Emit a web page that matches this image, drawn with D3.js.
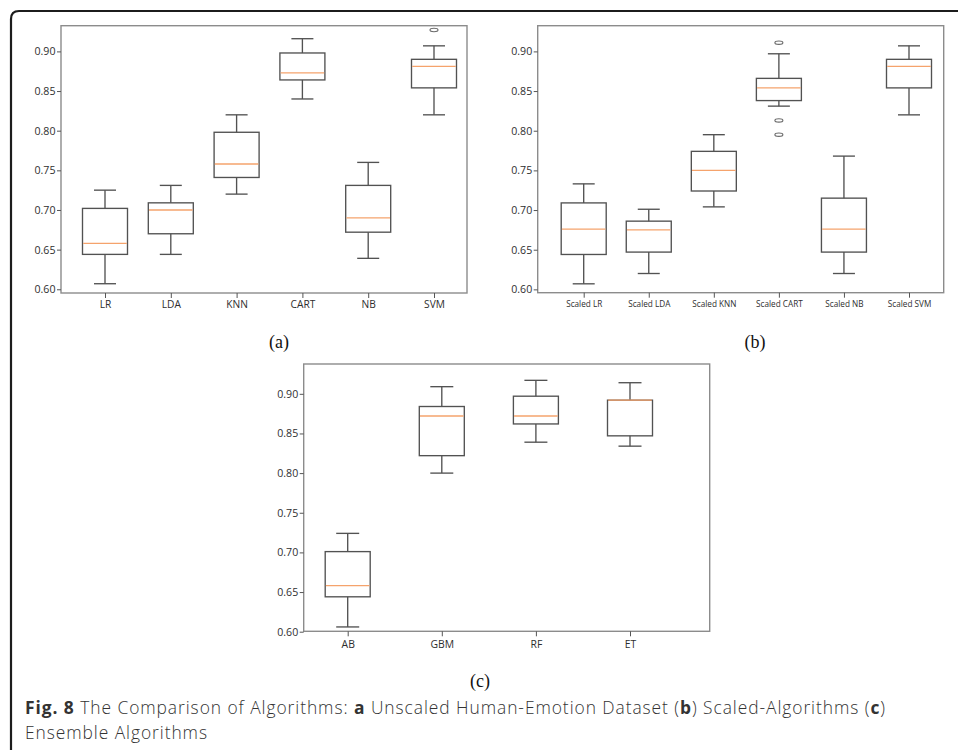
<!DOCTYPE html>
<html><head><meta charset="utf-8">
<script src="https://cdn.jsdelivr.net/npm/d3@7"></script>
<style>
html,body{margin:0;padding:0;background:#fff;}
svg{display:block;}
</style></head>
<body>
<svg id="chart" width="958" height="750"></svg>
<script>
// ---------------- DATA ----------------
const yTicks = [0.60, 0.65, 0.70, 0.75, 0.80, 0.85, 0.90];

const catsA = ["LR", "LDA", "KNN", "CART", "NB", "SVM"];
const lowA  = [0.607, 0.644, 0.720, 0.840, 0.639, 0.820];
const q1A   = [0.644, 0.670, 0.741, 0.864, 0.672, 0.854];
const medA  = [0.658, 0.700, 0.758, 0.873, 0.690, 0.881];
const q3A   = [0.702, 0.709, 0.798, 0.898, 0.731, 0.890];
const highA = [0.725, 0.731, 0.820, 0.916, 0.760, 0.907];
const outA  = [[], [], [], [], [], [0.927]];

const catsB = ["Scaled LR", "Scaled LDA", "Scaled KNN", "Scaled CART", "Scaled NB", "Scaled SVM"];
const lowB  = [0.607, 0.620, 0.704, 0.831, 0.620, 0.820];
const q1B   = [0.644, 0.647, 0.724, 0.838, 0.647, 0.854];
const medB  = [0.676, 0.675, 0.750, 0.854, 0.676, 0.881];
const q3B   = [0.709, 0.686, 0.774, 0.866, 0.715, 0.890];
const highB = [0.733, 0.701, 0.795, 0.897, 0.768, 0.907];
const outB  = [[], [], [], [0.911, 0.813, 0.795], [], []];

const catsC = ["AB", "GBM", "RF", "ET"];
const lowC  = [0.606, 0.800, 0.839, 0.834];
const q1C   = [0.644, 0.822, 0.862, 0.847];
const medC  = [0.658, 0.872, 0.872, 0.892];
const q3C   = [0.701, 0.884, 0.897, 0.892];
const highC = [0.724, 0.909, 0.917, 0.914];
const outC  = [[], [], [], []];

const panelLabels = ["(a)", "(b)", "(c)"];
const captionLine1 = [["Fig. 8", true], [" The Comparison of Algorithms: ", false], ["a", true],
  [" Unscaled Human-Emotion Dataset (", false], ["b", true], [") Scaled-Algorithms (", false], ["c", true], [")", false]];
const captionLine2 = "Ensemble Algorithms";

// ---------------- DRAW ----------------
const svg = d3.select("#chart");
const FONT = "'Open Sans', 'DejaVu Sans', sans-serif";

// outer rounded border (top + left)
svg.append("path")
  .attr("d", "M958,11 L19,11 Q11,11 11,19 L11,750")
  .attr("fill", "none").attr("stroke", "#1c1c1c").attr("stroke-width", 2.2);

function panel(cfg) {
  const {x0, x1, y0, y1, dom, xr, cats, low, q1, med, q3, high, outs, boxW, capW, xFont, labOff} = cfg;
  const g = svg.append("g");
  const y = d3.scaleLinear().domain(dom).range([y1, y0]);
  const x = d3.scalePoint().domain(cats).range(xr);

  // frame
  g.append("rect").attr("x", x0).attr("y", y0).attr("width", x1 - x0).attr("height", y1 - y0)
    .attr("fill", "none").attr("stroke", "#8c8c8c").attr("stroke-width", 1.4);

  // y axis
  const yAxis = d3.axisLeft(y).tickValues(yTicks).tickFormat(d3.format(".2f")).tickSize(4).tickPadding(1.5);
  const ya = g.append("g").attr("transform", `translate(${x0},0)`).call(yAxis);
  ya.select(".domain").remove();
  ya.selectAll("line").attr("stroke", "#555");
  ya.selectAll("text").attr("font-family", FONT).attr("font-size", 10.6).attr("fill", "#2e2e2e");

  // x axis
  const xAxis = d3.axisBottom(x).tickSize(5).tickPadding(labOff);
  const xa = g.append("g").attr("transform", `translate(0,${y1})`).call(xAxis);
  xa.select(".domain").remove();
  xa.selectAll("line").attr("stroke", "#555");
  xa.selectAll("text").attr("font-family", FONT).attr("font-size", xFont).attr("fill", "#2e2e2e");

  const stroke = "#525252", sw = 1.35;
  cats.forEach((c, i) => {
    const cx = x(c);
    const bg = g.append("g");
    // whiskers
    bg.append("line").attr("x1", cx).attr("x2", cx).attr("y1", y(q3[i])).attr("y2", y(high[i]))
      .attr("stroke", stroke).attr("stroke-width", sw);
    bg.append("line").attr("x1", cx).attr("x2", cx).attr("y1", y(q1[i])).attr("y2", y(low[i]))
      .attr("stroke", stroke).attr("stroke-width", sw);
    // caps
    [low[i], high[i]].forEach(v => {
      bg.append("line").attr("x1", cx - capW / 2).attr("x2", cx + capW / 2).attr("y1", y(v)).attr("y2", y(v))
        .attr("stroke", stroke).attr("stroke-width", sw);
    });
    // box
    bg.append("rect").attr("x", cx - boxW / 2).attr("y", y(q3[i])).attr("width", boxW)
      .attr("height", Math.max(0, y(q1[i]) - y(q3[i])))
      .attr("fill", "none").attr("stroke", stroke).attr("stroke-width", sw);
    // median
    bg.append("line").attr("x1", cx - boxW / 2 + 0.7).attr("x2", cx + boxW / 2 - 0.7)
      .attr("y1", y(med[i])).attr("y2", y(med[i]))
      .attr("stroke", "#f5a36c").attr("stroke-width", 1.3);
    // outliers
    outs[i].forEach(v => {
      bg.append("ellipse").attr("cx", cx).attr("cy", y(v)).attr("rx", 4).attr("ry", 1.7)
        .attr("fill", "none").attr("stroke", "#6a6a6a").attr("stroke-width", 1.1);
    });
  });
}

panel({x0: 61, x1: 467, y0: 25.7, y1: 293, dom: [0.5953, 0.9324], xr: [105, 434],
  cats: catsA, low: lowA, q1: q1A, med: medA, q3: q3A, high: highA, outs: outA,
  boxW: 45, capW: 22, xFont: 10.2, labOff: 3});
panel({x0: 537.7, x1: 943.7, y0: 25.7, y1: 292.7, dom: [0.5958, 0.9324], xr: [583.7, 909],
  cats: catsB, low: lowB, q1: q1B, med: medB, q3: q3B, high: highB, outs: outB,
  boxW: 45, capW: 22, xFont: 8.2, labOff: 3});
panel({x0: 303.7, x1: 709.7, y0: 364, y1: 631.3, dom: [0.6005, 0.9376], xr: [347.7, 630],
  cats: catsC, low: lowC, q1: q1C, med: medC, q3: q3C, high: highC, outs: outC,
  boxW: 45, capW: 23, xFont: 10.4, labOff: 4});

// panel labels
const labPos = [[279, 348], [755, 348], [480, 687]];
panelLabels.forEach((t, i) => {
  svg.append("text").attr("x", labPos[i][0]).attr("y", labPos[i][1]).attr("text-anchor", "middle")
    .attr("font-family", "'Liberation Serif', 'DejaVu Serif', serif").attr("font-size", 18)
    .attr("fill", "#111").text(t);
});

// caption
const capFont = "'Open Sans', 'DejaVu Sans', sans-serif";
const FS = 17.4;
const t1 = svg.append("text").attr("x", 25).attr("y", 714).attr("font-family", capFont)
  .attr("font-size", FS).attr("fill", "#333");
captionLine1.forEach(([s, b]) => {
  t1.append("tspan").attr("font-weight", b ? 700 : 300).text(s);
});
const w1 = t1.node().getComputedTextLength();
const nChars = captionLine1.map(d => d[0]).join("").length;
const ls = Math.max(0, (861 - w1) / nChars).toFixed(3);
t1.attr("letter-spacing", ls);
svg.append("text").attr("x", 25).attr("y", 739).attr("font-family", capFont).attr("font-weight", 300)
  .attr("font-size", FS).attr("fill", "#333").attr("letter-spacing", ls)
  .text(captionLine2);
</script>
</body></html>
